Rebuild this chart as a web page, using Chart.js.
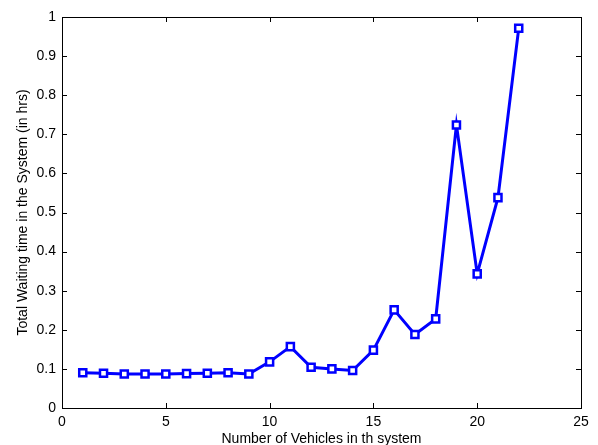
<!DOCTYPE html>
<html>
<head>
<meta charset="utf-8">
<script src="https://cdn.jsdelivr.net/npm/chart.js@4"></script>
<style>
  body { margin: 0; background: #fff; }
  #wrap { width: 598px; height: 445px; }
</style>
</head>
<body>
<div id="wrap"><canvas id="waitChart"></canvas></div>
<script>
const vehicles = [1, 2, 3, 4, 5, 6, 7, 8, 9, 10, 11, 12, 13, 14, 15, 16, 17, 18, 19, 20, 21, 22];
const waitTimes = [0.090, 0.089, 0.087, 0.087, 0.087, 0.088, 0.089, 0.090, 0.087, 0.118, 0.157,
    0.104, 0.100, 0.096, 0.148, 0.251, 0.188, 0.228, 0.724, 0.343, 0.538, 0.971];
const xTicks = [0, 5, 10, 15, 20, 25];
const yTicks = [0, 0.1, 0.2, 0.3, 0.4, 0.5, 0.6, 0.7, 0.8, 0.9, 1];

const points = vehicles.map((v, i) => ({ x: v, y: waitTimes[i] }));

// matlab style box with inward ticks
const boxTicks = {
    id: 'boxTicks',
    afterDraw(chart) {
        const { ctx, chartArea: a, scales } = chart;
        ctx.save();
        ctx.strokeStyle = '#000';
        ctx.lineWidth = 1;
        ctx.strokeRect(a.left + 0.5, a.top + 0.5, a.right - a.left, a.bottom - a.top);
        ctx.beginPath();
        xTicks.forEach(t => {
            const px = Math.round(scales.x.getPixelForValue(t)) + 0.5;
            ctx.moveTo(px, a.bottom); ctx.lineTo(px, a.bottom - 5);
            ctx.moveTo(px, a.top); ctx.lineTo(px, a.top + 5);
        });
        yTicks.forEach(t => {
            const py = Math.round(scales.y.getPixelForValue(t)) + 0.5;
            ctx.moveTo(a.left, py); ctx.lineTo(a.left + 5, py);
            ctx.moveTo(a.right, py); ctx.lineTo(a.right - 5, py);
        });
        ctx.stroke();
        ctx.restore();
    }
};

const font = { family: '"Liberation Sans", Arial, Helvetica, sans-serif', size: 14 };

const config = {
    type: 'scatter',
    data: {
        datasets: [{
            data: points,
            showLine: true,
            borderColor: '#0000ff',
            borderWidth: 3,
            pointStyle: 'rect',
            pointRadius: 5,
            pointBorderWidth: 2.5,
            pointBackgroundColor: '#ffffff',
            pointBorderColor: '#0000ff',
            tension: 0
        }]
    },
    options: {
        responsive: true,
        maintainAspectRatio: false,
        animation: false,
        layout: { padding: { top: 17, right: 17, left: 0, bottom: 0 } },
        plugins: { legend: { display: false }, tooltip: { enabled: false } },
        scales: {
            x: {
                type: 'linear',
                min: 0, max: 25,
                afterBuildTicks: s => { s.ticks = xTicks.map(v => ({ value: v })); },
                afterFit: s => { s.height = 37; },
                grid: { display: false, drawTicks: false },
                border: { display: false },
                ticks: { color: '#000', font, padding: 6, maxRotation: 0 },
                title: { display: true, text: 'Number of Vehicles in th system', color: '#000', font, padding: { top: 0, bottom: -3 } }
            },
            y: {
                min: 0, max: 1,
                afterBuildTicks: s => { s.ticks = yTicks.map(v => ({ value: v })); },
                afterFit: s => { s.width = 62; },
                grid: { display: false, drawTicks: false },
                border: { display: false },
                ticks: { color: '#000', font, padding: 6, callback: v => String(v) },
                title: { display: true, text: 'Total Waiting time in the System (in hrs)', color: '#000', font, padding: { top: 15, bottom: 0 } }
            }
        }
    },
    plugins: [boxTicks]
};

window.addEventListener('load', () => {
    new Chart(document.getElementById('waitChart'), config);
});
</script>
</body>
</html>
